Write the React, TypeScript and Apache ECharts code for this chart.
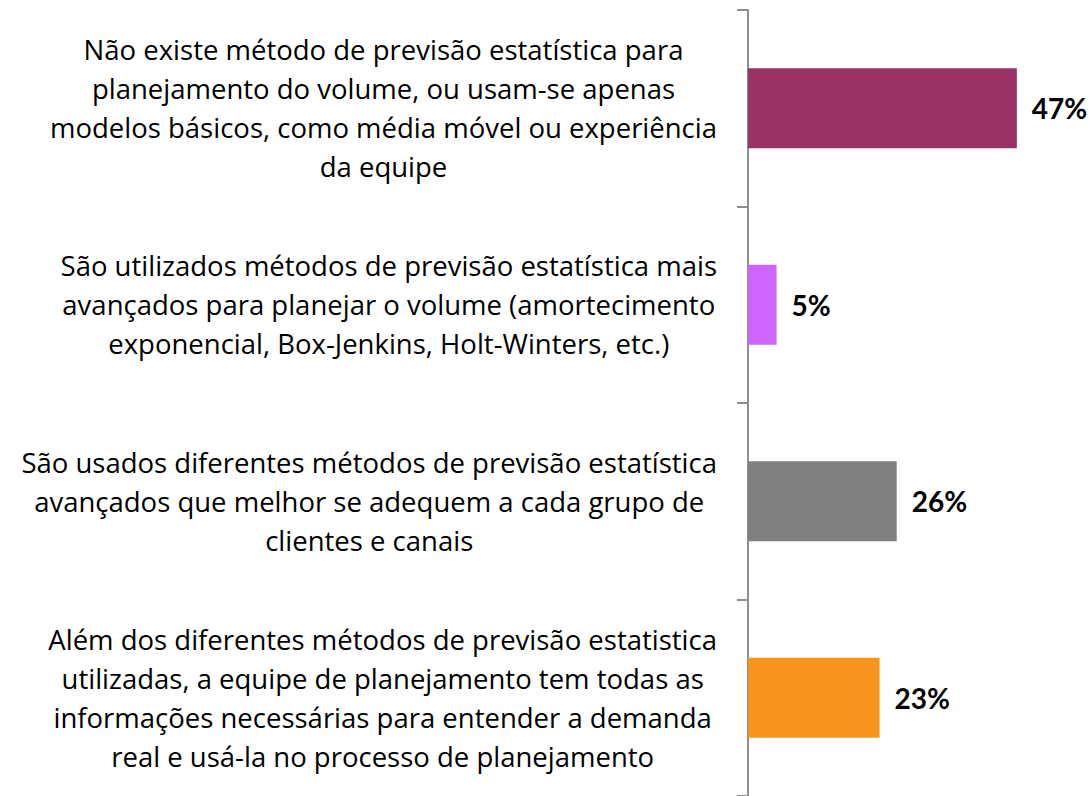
import React, { useEffect, useRef } from "react";
import * as echarts from "echarts";

const categories: string[][] = [
  [
    "Não existe método de previsão estatística para",
    "planejamento do volume, ou usam-se apenas",
    "modelos básicos, como média móvel ou experiência",
    "da equipe",
  ],
  [
    "São utilizados métodos de previsão estatística mais",
    "avançados para planejar o volume (amortecimento",
    "exponencial, Box-Jenkins, Holt-Winters, etc.)",
  ],
  [
    "São usados diferentes métodos de previsão estatística",
    "avançados que melhor se adequem a cada grupo de",
    "clientes e canais",
  ],
  [
    "Além dos diferentes métodos de previsão estatistica",
    "utilizadas, a equipe de planejamento tem todas as",
    "informações necessárias para entender a demanda",
    "real e usá-la no processo de planejamento",
  ],
];
const values: number[] = [47, 5, 26, 23];
const colors: string[] = ["#993366", "#CC66FF", "#808080", "#F7941E"];

const FONT = "'Open Sans', sans-serif";
const VFONT = "Lato, 'Open Sans', sans-serif";

export default function App() {
  const ref = useRef<HTMLDivElement>(null);
  useEffect(() => {
    document.body.style.margin = "0";
    if (!ref.current) return;
    const chart = echarts.init(ref.current, null, { renderer: "svg" });
    const cats = categories.map((lines) => lines.join("\n"));
    chart.setOption({
      animation: false,
      grid: { left: 748, top: 10, height: 787, width: 286, containLabel: false },
      xAxis: {
        type: "value",
        min: 0,
        max: 50,
        show: false,
      },
      yAxis: {
        type: "category",
        inverse: true,
        data: cats,
        axisLine: { show: true, lineStyle: { color: "#8E8E8E", width: 2 } },
        axisTick: { show: true, inside: false, length: 11, lineStyle: { color: "#8E8E8E", width: 2 } },
        splitLine: { show: false },
        axisLabel: {
          margin: 31,
          align: "right",
          fontFamily: FONT,
          fontSize: 27.5,
          color: "#000",
          formatter: (v: string) =>
            v
              .split("\n")
              .map((l) => "{c|" + l + "}")
              .join("\n"),
          rich: {
            c: {
              align: "center",
              fontFamily: FONT,
              fontSize: 27.5,
              lineHeight: 39,
              color: "#000",
            },
          },
        },
      },
      series: [
        {
          type: "bar",
          barWidth: 80,
          data: values.map((v, i) => ({ value: v, itemStyle: { color: colors[i] } })),
          label: {
            show: true,
            position: "right",
            distance: 15,
            formatter: "{c}%",
            fontFamily: VFONT,
            fontSize: 28,
            fontWeight: "bold",
            color: "#000",
          },
        },
      ],
    });
    return () => chart.dispose();
  }, []);
  return <div ref={ref} style={{ width: 1090, height: 796 }} />;
}
